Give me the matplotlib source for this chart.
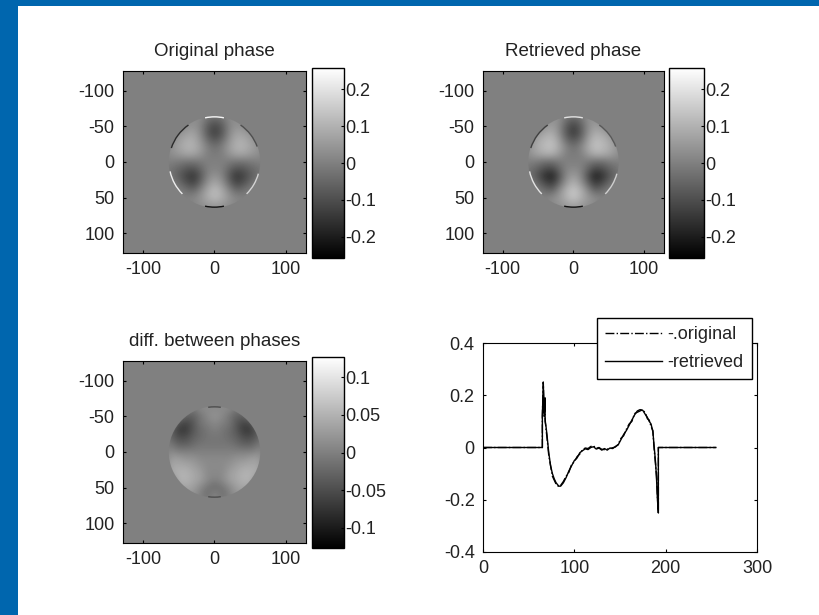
import matplotlib
matplotlib.use('Agg')
import matplotlib.pyplot as plt
import numpy as np
from matplotlib.patches import Arc, Circle, Rectangle

plt.rcParams['font.family'] = ['Liberation Sans', 'DejaVu Sans']
plt.rcParams['axes.unicode_minus'] = False

# phase maps, in units of 0.01, rows y=-70..70, cols x=-70..70
original = [
    [0, 0, 0, 0, 0, 2, 2, 2, 2, 2, 0, 0, 0, 0, 0],
    [0, 0, 0, 0, 3, 2, -3, -5, -3, 2, 3, 0, 0, 0, 0],
    [0, 0, 0, 3, 4, 1, -7, -11, -7, 1, 4, 3, 0, 0, 0],
    [0, 0, 3, 6, 7, 2, -8, -13, -8, 2, 7, 6, 3, 0, 0],
    [0, 2, 6, 9, 9, 4, -4, -8, -4, 4, 9, 9, 6, 2, 0],
    [0, 4, 7, 10, 10, 6, 0, -3, 0, 6, 10, 10, 7, 4, 0],
    [0, 3, 5, 7, 7, 4, 0, -1, 0, 4, 7, 7, 5, 3, 0],
    [0, 0, -1, -2, -2, -1, 0, 0, 0, -1, -2, -2, -1, 0, 0],
    [0, -3, -5, -8, -9, -5, 0, 1, 0, -5, -9, -8, -5, -3, 0],
    [0, -3, -7, -12, -15, -8, 1, 4, 1, -8, -15, -12, -7, -3, 0],
    [0, 0, -4, -9, -12, -5, 4, 8, 4, -5, -12, -9, -4, 0, 0],
    [0, 0, 0, -3, -5, 1, 8, 12, 8, 1, -5, -3, 0, 0, 0],
    [0, 0, 0, 0, 1, 4, 9, 12, 9, 4, 1, 0, 0, 0, 0],
    [0, 0, 0, 0, 1, 3, 5, 6, 5, 3, 1, 0, 0, 0, 0],
    [0, 0, 0, 0, 0, 1, 2, 2, 2, 1, 0, 0, 0, 0, 0],
]
retrieved = [
    [0, 0, 0, 0, 0, 2, 2, 2, 2, 2, 0, 0, 0, 0, 0],
    [0, 0, 0, 0, 4, 3, -3, -6, -3, 3, 4, 0, 0, 0, 0],
    [0, 0, 0, 4, 6, 2, -7, -12, -7, 2, 6, 4, 0, 0, 0],
    [0, 0, 4, 8, 9, 3, -8, -14, -8, 3, 9, 8, 4, 0, 0],
    [0, 3, 8, 11, 12, 6, -4, -8, -4, 6, 12, 11, 8, 3, 0],
    [0, 5, 9, 12, 13, 8, 1, -3, 1, 8, 13, 12, 9, 5, 0],
    [0, 4, 7, 9, 9, 5, 0, -1, 0, 5, 9, 9, 7, 4, 0],
    [0, 0, -1, -3, -3, -1, 0, 0, 0, -1, -3, -3, -1, 0, 0],
    [0, -3, -6, -10, -11, -5, 1, 2, 1, -5, -11, -10, -6, -3, 0],
    [0, -4, -9, -16, -19, -9, 2, 6, 2, -9, -19, -16, -9, -4, 0],
    [0, 0, -5, -11, -14, -5, 5, 10, 5, -5, -14, -11, -5, 0, 0],
    [0, 0, 0, -4, -6, 2, 10, 14, 10, 2, -6, -4, 0, 0, 0],
    [0, 0, 0, 0, 2, 5, 10, 14, 10, 5, 2, 0, 0, 0, 0],
    [0, 0, 0, 0, 2, 4, 6, 8, 6, 4, 2, 0, 0, 0, 0],
    [0, 0, 0, 0, 0, 2, 3, 3, 3, 2, 0, 0, 0, 0, 0],
]
difference = [
    [0, 0, 0, 0, 0, 1, 1, 1, 1, 1, 0, 0, 0, 0, 0],
    [0, 0, 0, 0, -1, 1, 1, 1, 1, 1, -1, 0, 0, 0, 0],
    [0, 0, 0, -3, -3, -1, 1, 2, 1, -1, -3, -3, 0, 0, 0],
    [0, 0, -5, -6, -4, -1, 0, 1, 0, -1, -4, -6, -5, 0, 0],
    [0, -3, -7, -7, -4, -2, -1, 0, -1, -2, -4, -7, -7, -3, 0],
    [0, -3, -5, -5, -3, -2, -1, -1, -1, -2, -3, -5, -5, -3, 0],
    [0, -1, -3, -3, -2, -1, -1, -1, -1, -1, -2, -3, -3, -1, 0],
    [0, 1, 0, 0, 0, 0, 0, 0, 0, 0, 0, 0, 0, 1, 0],
    [0, 3, 3, 2, 2, 1, 1, 1, 1, 1, 2, 2, 3, 3, 0],
    [0, 4, 4, 4, 3, 2, 1, 1, 1, 2, 3, 4, 4, 4, 0],
    [0, 4, 5, 5, 4, 3, 1, 1, 1, 3, 4, 5, 5, 4, 0],
    [0, 0, 5, 5, 4, 3, 1, 0, 1, 3, 4, 5, 5, 0, 0],
    [0, 0, 3, 4, 3, 1, -1, -2, -1, 1, 3, 4, 3, 0, 0],
    [0, 0, 0, 2, 2, 0, -2, 1, -2, 0, 2, 2, 0, 0, 0],
    [0, 0, 0, 0, 0, 0, 0, 0, 0, 0, 0, 0, 0, 0, 0],
]

# bright and dark bits on the rim of the disk: start angle, end angle, value
rim_start = [78, 258, 198, 135, 15, 305]
rim_end = [102, 282, 235, 168, 45, 340]
rim_original = [-0.22, 0.24, -0.17, 0.22, 0.17, -0.1]
rim_retrieved = [-0.22, 0.2, -0.13, 0.2, 0.16, -0.08]
diff_start = [82, 262]
diff_end = [98, 278]
rim_diff = [-0.05, -0.05]

# profile through the centre
line_x = [0, 64, 65, 65, 66, 67, 68, 68, 69, 70, 72, 74, 76, 78, 80, 83, 85, 88, 91, 94, 97,
          100, 103, 106, 109, 112, 115, 118, 121, 124, 127, 130, 133, 136, 139, 142, 145,
          148, 151, 154, 157, 160, 163, 166, 169, 172, 175, 178, 180, 182, 184, 186, 187,
          188, 189, 190, 191, 192, 192, 255]
line_retrieved = [0, 0, 0, 0.12, 0.25, 0.12, 0.19, 0.1, 0.08, 0.05, -0.02, -0.07, -0.1, -0.12,
                  -0.135, -0.148, -0.148, -0.135, -0.115, -0.09, -0.07, -0.05, -0.04, -0.02,
                  -0.012, -0.005, -0.008, 0, 0.003, -0.006, -0.002, -0.01, -0.004, -0.01,
                  -0.002, -0.004, 0.004, 0.01, 0.03, 0.05, 0.065, 0.085, 0.105, 0.125, 0.14,
                  0.145, 0.142, 0.125, 0.115, 0.1, 0.09, 0.06, 0.02, -0.02, -0.06, -0.12, -0.2,
                  -0.25, 0, 0]
line_original = [0, 0, 0, 0.12, 0.25, 0.12, 0.18, 0.11, 0.07, 0.04, -0.03, -0.07, -0.11, -0.125,
                 -0.14, -0.15, -0.145, -0.13, -0.11, -0.095, -0.065, -0.055, -0.035, -0.025,
                 -0.008, -0.002, -0.004, 0.004, 0.006, -0.003, 0, -0.007, -0.008, -0.006, -0.005,
                 -0.001, 0.002, 0.012, 0.035, 0.045, 0.07, 0.09, 0.1, 0.13, 0.135, 0.14, 0.145,
                 0.13, 0.11, 0.105, 0.08, 0.065, 0.01, -0.03, -0.07, -0.11, -0.19, -0.25, 0, 0]

titles = ['Original phase', 'Retrieved phase', 'diff. between phases']
img_ticks = [-100, -50, 0, 50, 100]
cbar_ticks = [-0.2, -0.1, 0, 0.1, 0.2]
cbar_labels = ['-0.2', '-0.1', '0', '0.1', '0.2']
diff_ticks = [-0.1, -0.05, 0, 0.05, 0.1]
diff_labels = ['-0.1', '-0.05', '0', '0.05', '0.1']

W, H = 820, 615
FS = 13
TEXT = '#222222'


def px_axes(fig, x0, y0, x1, y1):
    # box given in picture pixels, y going down
    return fig.add_axes([x0 / W, 1 - y1 / H, (x1 - x0) / W, (y1 - y0) / H])


def drawPhase(fig, box, cbox, grid, vlim, title, ticks, labels, start, end, rim):
    ax = px_axes(fig, *box)
    ax.set_facecolor('#808080')
    im = ax.imshow(np.array(grid) / 100, cmap='gray', vmin=-vlim, vmax=vlim,
                   extent=[-75, 75, 75, -75], interpolation='bicubic', zorder=2)
    im.set_clip_path(Circle((0, 0), 64, transform=ax.transData))
    ax.set_xlim(-128, 128)
    ax.set_ylim(128, -128)
    ax.set_aspect('auto')
    ax.set_xticks([-100, 0, 100])
    ax.set_yticks(img_ticks)
    ax.tick_params(direction='in', length=2.5, width=0.8, top=True, right=True,
                   labelsize=FS, pad=6, labelcolor=TEXT)
    ax.set_title(title, fontsize=FS + 0.5, pad=11, color=TEXT)
    for a, b, val in zip(start, end, rim):
        shade = plt.cm.gray((val + vlim) / (2 * vlim))
        ax.add_patch(Arc((0, 0), 127, 127, theta1=a, theta2=b, color=shade, lw=1.0, zorder=3))

    cax = px_axes(fig, *cbox)
    cb = fig.colorbar(im, cax=cax)
    cb.set_ticks(ticks, labels=labels)
    cax.tick_params(direction='in', length=2.5, width=0.8, labelsize=FS, pad=1, labelcolor=TEXT)
    cb.outline.set_linewidth(1)
    return ax


fig = plt.figure(figsize=(W / 100, H / 100), dpi=100, facecolor='white')

# blue slide border
fig.add_artist(Rectangle((0, 0), 18 / W, 1, transform=fig.transFigure, color='#0066AE', lw=0))
fig.add_artist(Rectangle((0, 1 - 6 / H), 1, 6 / H, transform=fig.transFigure, color='#0066AE', lw=0))

drawPhase(fig, (123, 71, 306, 253), (312, 68, 344, 258), original, 0.257, titles[0],
          cbar_ticks, cbar_labels, rim_start, rim_end, rim_original)
drawPhase(fig, (483, 71, 664, 253), (669, 68, 704, 258), retrieved, 0.257, titles[1],
          cbar_ticks, cbar_labels, rim_start, rim_end, rim_retrieved)
drawPhase(fig, (123, 361, 306, 543), (312, 357, 344, 548), difference, 0.127, titles[2],
          diff_ticks, diff_labels, diff_start, diff_end, rim_diff)

ax = px_axes(fig, 483, 343, 757, 552)
ax.plot(line_x, line_original, color='black', linestyle='-.', lw=1.0, label='-.original')
ax.plot(line_x, line_retrieved, color='black', lw=1.0, label='-retrieved')
ax.set_xlim(0, 300)
ax.set_ylim(-0.4, 0.4)
ax.set_xticks([0, 100, 200, 300])
ax.set_yticks([-0.4, -0.2, 0, 0.2, 0.4])
ax.set_yticklabels(['-0.4', '-0.2', '0', '0.2', '0.4'])
ax.tick_params(direction='in', length=2.5, width=0.8, top=True, right=True, labelsize=FS, pad=6,
               labelcolor=TEXT)

leg = ax.legend(loc='upper right', bbox_to_anchor=(752 / W, 1 - 318 / H), bbox_transform=fig.transFigure,
                fontsize=FS, fancybox=False, framealpha=1, edgecolor='black', handlelength=3.15,
                handletextpad=0.3, borderaxespad=0, borderpad=0.45, labelspacing=0.6, labelcolor=TEXT)
leg.get_frame().set_linewidth(1)

fig.savefig('out.png', dpi=100)
plt.close(fig)
